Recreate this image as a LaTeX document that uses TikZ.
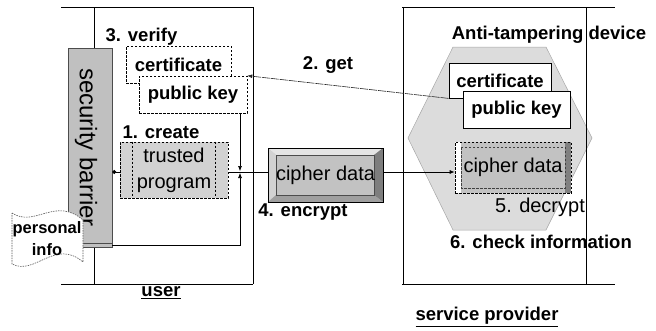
\documentclass[tikz,border=0pt]{standalone}
\usepackage{fontspec}
\setmainfont{Liberation Sans}
\usetikzlibrary{arrows.meta,calc}
\definecolor{barfill}{HTML}{C0C0C0}
\definecolor{trfill}{HTML}{D2D2D2}
\definecolor{hexfill}{HTML}{DCDCDC}
\definecolor{cfill}{HTML}{C2C2C2}
\begin{document}
\begin{tikzpicture}[x=1bp,y=-1bp,
  lbl/.style={font=\bfseries\fontsize{18.5bp}{20bp}\selectfont,inner sep=0pt},
  reg/.style={font=\fontsize{20bp}{26bp}\selectfont,inner sep=0pt,align=center},
  dpat/.style={line width=0.6bp,dash pattern=on 2.5bp off 1.5bp},
  dbox/.style={draw,dpat,inner sep=0pt,font=\bfseries\fontsize{18.5bp}{20bp}\selectfont},
  sbox/.style={draw,line width=0.8bp,fill=white,inner sep=0pt,font=\bfseries\fontsize{18.5bp}{20bp}\selectfont},
  line/.style={line width=0.8bp},
  arr/.style={line width=0.6bp,-{Latex[length=5bp,width=4bp]}}
]
\useasboundingbox (0,0) rectangle (656,330);

% outer frames
\draw[line] (61,7) -- (253,7) (61,284) -- (253,284) (94,7) -- (94,284) (253,7) -- (253,284);

% hexagon (anti-tampering device)
\fill[hexfill,draw=gray!70,line width=0.5bp] (453,47) -- (546,47) -- (592,138) -- (546,230) -- (453,230) -- (408,138) -- cycle;
\draw[line] (402,7) -- (615,7) (402,284) -- (615,284) (403,7) -- (403,284) (586,7) -- (586,284);

% security barrier
\node[draw=gray!60!black,fill=barfill,minimum width=44bp,minimum height=199bp,inner sep=0pt,line width=0.6bp]
  (barrier) at (90,147.5) {};
\draw[gray!60!black,line width=0.6bp] (barrier.south west) ++(0,-4) -- ++(44,0);
\node[font=\fontsize{24bp}{26bp}\selectfont,rotate=-90,inner sep=0pt] (bartext) at (86,147.5) {security barrier};

% personal info
\draw[gray!70!black,fill=white,line width=0.6bp,dash pattern=on 1.5bp off 1bp]
  (12,213) .. controls (35,228) and (55,196) .. (83,220) -- (83,262)
  .. controls (55,238) and (35,276) .. (12,264) -- cycle;
\node[font=\bfseries\fontsize{16.5bp}{22bp}\selectfont,align=center,inner sep=0pt] (pinfo) at (47,239) {personal\\info};

% user side boxes
\node[dbox,fill=white,minimum width=105bp,minimum height=37bp] (ucert) at (178.5,64.5) {certificate};
\node[dbox,fill=white,minimum width=108bp,minimum height=37bp] (upk) at (193,94.5) {public key};
\node[dbox,fill=trfill,minimum width=108bp,minimum height=56bp,font=\fontsize{20bp}{26bp}\selectfont,align=center]
  (trusted) at (174,170) {trusted\\program};
\draw[dpat] (trusted.north west) ++(13,0) -- ++(0,56);
\draw[dpat] (trusted.north east) ++(-13,0) -- ++(0,56);

% user cipher data (raised button)
\fill[cfill] (268,148) rectangle (383,202);
\fill[gray!20] (268,148) -- (383,148) -- (374,155) -- (276,155) -- cycle;
\fill[gray!35] (268,148) -- (276,155) -- (276,195) -- (268,202) -- cycle;
\fill[gray!55!black!70] (383,148) -- (383,202) -- (374,195) -- (374,155) -- cycle;
\fill[gray!75] (268,202) -- (383,202) -- (374,195) -- (276,195) -- cycle;
\draw[line width=0.4bp,gray!60!black] (276,155) rectangle (374,195);
\node[draw,line width=0.8bp,minimum width=115bp,minimum height=54bp,inner sep=0pt,font=\fontsize{20bp}{22bp}\selectfont]
  (ucipher) at (325.5,175) {cipher data};

% service side boxes
\node[sbox,minimum width=102bp,minimum height=35bp] (scert) at (500,80.5) {certificate};
\node[sbox,minimum width=107bp,minimum height=37bp] (spk) at (516.5,109.5) {public key};
\fill[cfill] (455,142) rectangle (571,193);
\fill[white] (455,142) rectangle (461,193);
\fill[gray] (565,142) rectangle (571,193);
\draw[dpat,line width=0.5bp,gray!50!black] (461,147) rectangle (565,188);
\node[draw,dpat,minimum width=116bp,minimum height=51bp,inner sep=0pt,font=\fontsize{20bp}{22bp}\selectfont]
  (scipher) at (513,167.5) {cipher data};

% labels
\node[lbl] (t3) at (141.5,37) {3. verify};
\node[lbl] (t1) at (161,132) {1. create};
\node[lbl] (t2) at (328,65) {2. get};
\node[lbl] (t4) at (303,212) {4. encrypt};
\node[reg] (t5) at (540,207) {5. decrypt};
\node[lbl] (t6) at (541,242) {6. check information};
\node[lbl] (tad) at (549,35) {Anti-tampering device};
\node[lbl] (tu) at (161,293) {\underline{user}};
\node[lbl] (tsp) at (487,317) {\underline{service provider}};

% connectors
\coordinate (J) at (240,172);
\coordinate (bb) at (112,245);
\draw[line width=0.7bp,{Circle[length=4bp]}-] (barrier.east |- J) -- (trusted.west |- J);
\draw[line] (trusted.east |- J) -- (ucipher.west |- J);
\draw[arr,shorten >=1bp] (upk.south -| J) -- (J);
\draw[arr,shorten >=1bp] (bb) -| (J);
\draw[arr,line width=0.8bp] (ucipher.east |- J) -- (scipher.west |- J);
\draw[arr,gray!30!black,dash pattern=on 8bp off 1bp] (scert.south west) -- (upk.north east);
\end{tikzpicture}
\end{document}
